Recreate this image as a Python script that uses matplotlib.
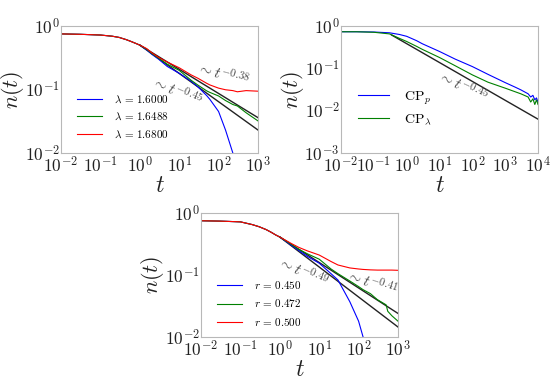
import numpy as np
import matplotlib
matplotlib.use("Agg")
import matplotlib.pyplot as plt
from matplotlib.ticker import FixedLocator, FixedFormatter

plt.rcParams["mathtext.fontset"] = "cm"
plt.rcParams["font.family"] = "serif"
plt.rcParams["font.serif"] = ["DejaVu Serif"]

# Panel (a): lambda values
t_a = [0.01, 0.03, 0.1, 0.2, 0.3, 0.45, 0.6, 0.8, 1, 1.5, 2, 3, 5, 10, 20, 30, 50, 60, 100, 150, 230, 300, 500, 1000]
n_a_blue = [0.75, 0.74, 0.72, 0.69, 0.66, 0.61, 0.57, 0.53, 0.50, 0.42, 0.36, 0.30, 0.23, 0.18, 0.135, 0.11, 0.08, 0.07, 0.045, 0.023, 0.01, 0.006, 0.004, 0.003]
n_a_green = [0.75, 0.74, 0.72, 0.69, 0.66, 0.61, 0.57, 0.53, 0.50, 0.43, 0.37, 0.31, 0.25, 0.20, 0.14, 0.117, 0.095, 0.09, 0.079, 0.067, 0.058, 0.055, 0.043, 0.032]
n_a_red = [0.75, 0.74, 0.72, 0.69, 0.66, 0.61, 0.57, 0.53, 0.50, 0.44, 0.38, 0.32, 0.27, 0.22, 0.17, 0.15, 0.125, 0.118, 0.105, 0.099, 0.096, 0.092, 0.096, 0.094]
labels_a = [r"$\lambda\, =\, 1.6000$", r"$\lambda\, =\, 1.6488$", r"$\lambda\, =\, 1.6800$"]
guide_a_t = [1, 1000]
guide_a_045 = [0.5, 0.023]
guide_a_038 = [0.5, 0.036]

# Panel (b): CP_p and CP_lambda
t_b = [0.01, 0.03, 0.1, 0.3, 0.6, 1, 2, 3, 10, 30, 100, 300, 1000, 2000, 3000, 5000, 6000, 7000, 8000, 9000, 10000]
n_b_blue = [0.73, 0.73, 0.72, 0.69, 0.63, 0.57, 0.45, 0.38, 0.25, 0.165, 0.11, 0.072, 0.046, 0.036, 0.031, 0.025, 0.021, 0.023, 0.018, 0.02, 0.016]
n_b_green = [0.73, 0.73, 0.71, 0.65, 0.51, 0.43, 0.33, 0.28, 0.18, 0.115, 0.07, 0.047, 0.034, 0.028, 0.025, 0.021, 0.016, 0.019, 0.014, 0.018, 0.014]
labels_b = [r"$\mathrm{CP}_p$", r"$\mathrm{CP}_\lambda$"]
guide_b_t = [0.35, 10000]
guide_b_045 = [0.61, 0.0063]

# Panel (c): r values
t_c = [0.01, 0.03, 0.1, 0.2, 0.3, 0.45, 0.6, 0.8, 1, 2, 3, 5, 10, 20, 30, 60, 100, 130, 200, 300, 500, 550, 700, 1000]
n_c_blue = [0.75, 0.74, 0.72, 0.65, 0.60, 0.54, 0.49, 0.44, 0.41, 0.30, 0.25, 0.20, 0.155, 0.105, 0.083, 0.037, 0.018, 0.01, 0.005, 0.004, 0.003, 0.003, 0.003, 0.003]
n_c_green = [0.75, 0.74, 0.72, 0.65, 0.60, 0.54, 0.49, 0.44, 0.41, 0.31, 0.26, 0.22, 0.18, 0.125, 0.105, 0.08, 0.065, 0.058, 0.05, 0.04, 0.033, 0.026, 0.022, 0.018]
n_c_red = [0.75, 0.74, 0.72, 0.65, 0.60, 0.54, 0.49, 0.44, 0.41, 0.32, 0.28, 0.245, 0.21, 0.165, 0.145, 0.13, 0.125, 0.123, 0.121, 0.12, 0.12, 0.12, 0.12, 0.119]
labels_c = [r"$r\, =\, 0.450$", r"$r\, =\, 0.472$", r"$r\, =\, 0.500$"]
guide_c_t = [1, 1000]
guide_c_049 = [0.41, 0.0145]
guide_c_041 = [0.41, 0.024]

fig = plt.figure(figsize=(5.51, 3.82), dpi=100)
ax1 = fig.add_axes([0.1107, 0.5995, 0.3575, 0.3325])
ax2 = fig.add_axes([0.6189, 0.5995, 0.3575, 0.3325])
ax3 = fig.add_axes([0.3648, 0.1178, 0.3575, 0.3246])

GRAY = "#444444"


def style(ax, xexp, yexp):
    ax.set_xscale("log")
    ax.set_yscale("log")
    ax.set_xlim(10.0 ** xexp[0], 10.0 ** xexp[-1])
    ax.set_ylim(10.0 ** yexp[0], 10.0 ** yexp[-1])
    ax.xaxis.set_major_locator(FixedLocator([10.0 ** e for e in xexp]))
    ax.xaxis.set_major_formatter(FixedFormatter([r"$10^{%d}$" % e for e in xexp]))
    ax.yaxis.set_major_locator(FixedLocator([10.0 ** e for e in yexp]))
    ax.yaxis.set_major_formatter(FixedFormatter([r"$10^{%d}$" % e for e in yexp]))
    ax.minorticks_off()
    for s in ax.spines.values():
        s.set_color("#b8b8b8")
        s.set_linewidth(0.8)
    ax.tick_params(which="both", length=0, labelsize=12.5, pad=1, colors="#222222")
    ax.tick_params(axis="x", pad=2.5)
    ax.set_xlabel(r"$t$", fontsize=17, labelpad=-2, color="#222222")
    ax.set_ylabel(r"$n(t)$", fontsize=16, labelpad=-1, color="#222222")


def legend(ax, size, anchor, spacing):
    ax.legend(loc="lower left", frameon=False, fontsize=size, handlelength=2.2,
              handletextpad=1.1, labelspacing=spacing, borderaxespad=0,
              bbox_to_anchor=anchor)


# (a)
ax1.plot(guide_a_t, guide_a_045, color="#222222", lw=1.0)
ax1.plot(guide_a_t, guide_a_038, color="#222222", lw=1.0)
ax1.plot(t_a, n_a_blue, color="b", lw=0.8, label=labels_a[0])
ax1.plot(t_a, n_a_green, color="g", lw=0.8, label=labels_a[1])
ax1.plot(t_a, n_a_red, color="r", lw=0.8, label=labels_a[2])
style(ax1, [-2, -1, 0, 1, 2, 3], [-2, -1, 0])
ax1.text(8.7, 0.093, r"$\sim t^{-0.45}$", rotation=-23, color=GRAY, fontsize=11, ha="center", va="center")
ax1.text(128, 0.17, r"$\sim t^{-0.38}$", rotation=-15, color=GRAY, fontsize=11, ha="center", va="center")
legend(ax1, 8, (0.06, 0.07), 0.55)

# (b)
ax2.plot(guide_b_t, guide_b_045, color="#222222", lw=1.0)
ax2.plot(t_b, n_b_blue, color="b", lw=0.8, label=labels_b[0])
ax2.plot(t_b, n_b_green, color="g", lw=0.8, label=labels_b[1])
style(ax2, [-2, -1, 0, 1, 2, 3, 4], [-3, -2, -1, 0])
ax2.text(52, 0.037, r"$\sim t^{-0.45}$", rotation=-25, color=GRAY, fontsize=11, ha="center", va="center")
legend(ax2, 10, (0.06, 0.16), 0.4)

# (c)
ax3.plot(guide_c_t, guide_c_049, color="#222222", lw=1.0)
ax3.plot(guide_c_t, guide_c_041, color="#222222", lw=1.0)
ax3.plot(t_c, n_c_blue, color="b", lw=0.8, label=labels_c[0])
ax3.plot(t_c, n_c_green, color="g", lw=0.8, label=labels_c[1])
ax3.plot(t_c, n_c_red, color="r", lw=0.8, label=labels_c[2])
style(ax3, [-2, -1, 0, 1, 2, 3], [-2, -1, 0])
ax3.text(3.9, 0.11, r"$\sim t^{-0.49}$", rotation=-24, color=GRAY, fontsize=11, ha="center", va="center")
ax3.text(213, 0.074, r"$\sim t^{-0.41}$", rotation=-18, color=GRAY, fontsize=11, ha="center", va="center")
legend(ax3, 8, (0.06, 0.04), 0.55)

fig.savefig("out.png", dpi=100)
